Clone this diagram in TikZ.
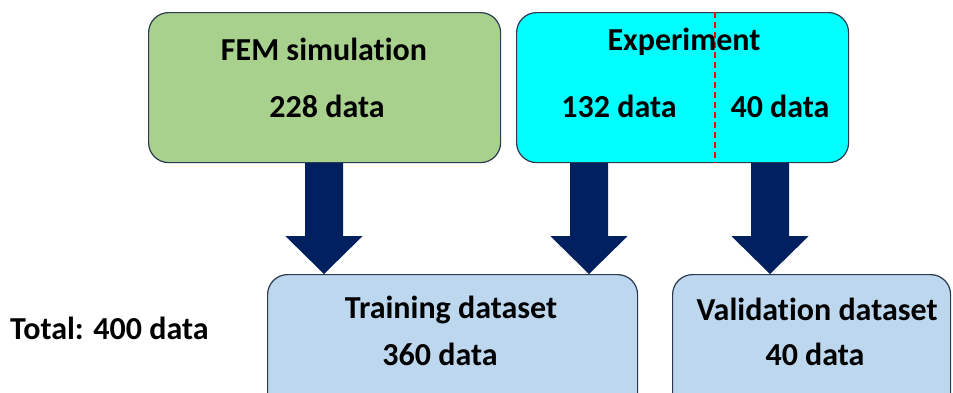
\documentclass[tikz,border=0pt]{standalone}
\usepackage{fontspec}
\setmainfont{Carlito}[Ligatures=NoCommon]
\usetikzlibrary{calc}
\definecolor{femgreen}{HTML}{A9D18E}
\definecolor{expcyan}{HTML}{00FFFF}
\definecolor{setblue}{HTML}{BDD7EE}
\definecolor{arrowcol}{HTML}{002060}
\definecolor{edgecol}{HTML}{2B3A4F}
\tikzset{
  box/.style={draw=edgecol, line width=1.2pt, rounded corners=20pt, anchor=north west, inner sep=0pt},
  lbl/.style={font=\fontsize{32}{38}\selectfont\bfseries, anchor=base, inner sep=0pt, text=black},
  blockarrow/.style={fill=arrowcol}
}
\newcommand\myarrow[2]{%
  \fill[blockarrow] ($(#1)+(-19,0)$) -- ($(#1)+(19,0)$) -- ($(#1)+(19,73)$) -- ($(#1)+(38.5,73)$)
    -- (#2) -- ($(#1)+(-38.5,73)$) -- ($(#1)+(-19,73)$) -- cycle;}
\begin{document}
\begin{tikzpicture}[x=1pt,y=-1pt]
\useasboundingbox (0,0) rectangle (953,392);
\clip (0,0) rectangle (953,392);
% boxes
\node[box, fill=femgreen, minimum width=352pt, minimum height=150pt] (fem) at (148,12) {};
\node[box, fill=expcyan, minimum width=332pt, minimum height=150pt] (exp) at (516,12) {};
\node[box, fill=setblue, minimum width=370pt, minimum height=150pt] (train) at (267,274) {};
\node[box, fill=setblue, minimum width=278pt, minimum height=150pt] (valid) at (672,274) {};
% dashed split
\coordinate (dtop) at ($(exp.north west)+(199,0)$);
\coordinate (dbot) at ($(exp.south west)+(199,0)$);
\draw[red, line width=1.2pt, dash pattern=on 6pt off 4pt] (dtop) -- (dbot);
% arrows
\coordinate (a1s) at ($(fem.south west)+(176,0)$);
\coordinate (a1e) at (a1s |- train.north);
\coordinate (a2s) at ($(exp.south west)+(73,0)$);
\coordinate (a2e) at (a2s |- train.north);
\coordinate (a3s) at ($(exp.south west)+(254,0)$);
\coordinate (a3e) at (a3s |- valid.north);
\myarrow{a1s}{a1e}
\myarrow{a2s}{a2e}
\myarrow{a3s}{a3e}
% texts
\node[lbl] (femt) at (324,60) {FEM simulation};
\node[lbl] (femd) at (327,117) {228 data};
\node[lbl] (expt) at (684,50) {Experiment};
\node[lbl] (expa) at (619,117) {132 data};
\node[lbl] (expb) at (780,117) {40 data};
\node[lbl] (trt) at (451,318) {Training dataset};
\node[lbl] (trd) at (440,365) {360 data};
\node[lbl] (vat) at (817,320) {Validation dataset};
\node[lbl] (vad) at (815,365) {40 data};
\node[lbl, anchor=base west] (total) at (10,339) {Total: 400 data};
\end{tikzpicture}
\end{document}
